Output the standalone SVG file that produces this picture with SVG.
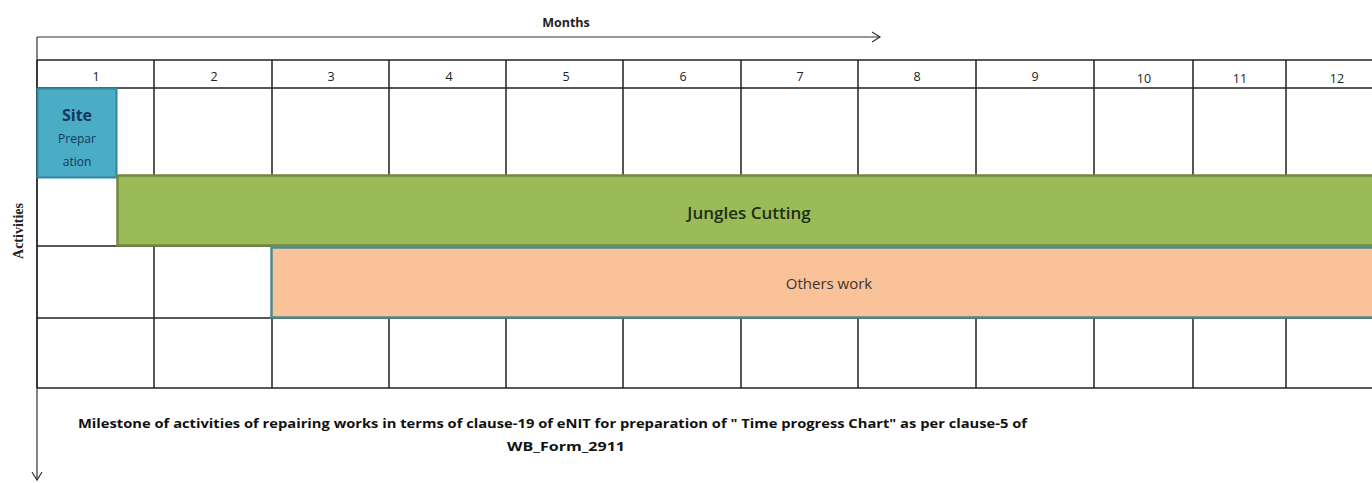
<svg xmlns="http://www.w3.org/2000/svg" width="1372" height="483" viewBox="0 0 1372 483">
<style>
.grid{stroke:#222;stroke-width:1.5;fill:none}
.axis{stroke:#333;stroke-width:1.2;fill:none}
.hdr{font-family:"Open Sans","Liberation Sans",sans-serif;font-size:12.5px;fill:#222;text-anchor:middle}
.cap{font-family:"Open Sans","Liberation Sans",sans-serif;font-size:12.5px;font-weight:bold;fill:#111}
.bar-text{font-family:"Open Sans","Liberation Sans",sans-serif;text-anchor:middle}
</style>
<defs>
<marker id="chev" markerWidth="12" markerHeight="12" refX="10" refY="6" orient="auto" markerUnits="userSpaceOnUse">
<path d="M2,1 L10,6 L2,11" fill="none" stroke="#333" stroke-width="1.2"/>
</marker>
</defs>
<rect width="1372" height="483" fill="#fff"/>

<g id="connectors">
<line class="axis" x1="37" y1="37" x2="880" y2="37" marker-end="url(#chev)"/>
<line class="axis" x1="37" y1="37" x2="37" y2="480" marker-end="url(#chev)"/>
</g>

<g id="grid">
<line class="grid" x1="37" y1="60" x2="1372" y2="60"/>
<line class="grid" x1="37" y1="88" x2="1372" y2="88"/>
<line class="grid" x1="37" y1="175" x2="117" y2="175"/>
<line class="grid" x1="37" y1="246" x2="271" y2="246"/>
<line class="grid" x1="37" y1="318" x2="1372" y2="318"/>
<line class="grid" x1="37" y1="388" x2="1372" y2="388"/>
<line class="grid" x1="37" y1="60" x2="37" y2="388"/>
<path class="grid" d="M154,60V175 M272,60V175 M389,60V175 M506,60V175 M623,60V175 M741,60V175 M858,60V175 M976,60V175 M1094,60V175 M1193,60V175 M1286,60V175"/>
<path class="grid" d="M154,246V388 M272,318V388 M389,318V388 M506,318V388 M623,318V388 M741,318V388 M858,318V388 M976,318V388 M1094,318V388 M1193,318V388 M1286,318V388"/>
</g>

<g id="month-labels">
<text class="hdr" x="96" y="81">1</text>
<text class="hdr" x="214" y="81">2</text>
<text class="hdr" x="331" y="81">3</text>
<text class="hdr" x="449" y="81">4</text>
<text class="hdr" x="566" y="81">5</text>
<text class="hdr" x="683" y="81">6</text>
<text class="hdr" x="800" y="81">7</text>
<text class="hdr" x="917" y="81">8</text>
<text class="hdr" x="1035" y="81">9</text>
<text class="hdr" x="1144" y="83">10</text>
<text class="hdr" x="1240" y="83">11</text>
<text class="hdr" x="1337" y="83">12</text>
</g>

<g id="months-title">
<text x="566" y="27" text-anchor="middle" style="font-family:'Open Sans','Liberation Sans',sans-serif;font-size:12.5px;font-weight:bold;fill:#222">Months</text>
</g>

<g id="activities-title">
<text transform="translate(23,231) rotate(-90)" text-anchor="middle" style="font-family:'Liberation Serif',serif;font-size:14px;font-weight:bold;fill:#222">Activities</text>
</g>

<g id="site-preparation">
<rect x="37.5" y="88.5" width="79" height="89" fill="#4BACC6" stroke="#31859C" stroke-width="2"/>
<text class="bar-text" x="77" y="121" style="font-size:16px;font-weight:bold;fill:#17365D">Site</text>
<text class="bar-text" x="77" y="143" style="font-size:12px;fill:#17365D">Prepar</text>
<text class="bar-text" x="77" y="166" style="font-size:12px;fill:#17365D">ation</text>
</g>

<g id="jungles-cutting">
<rect x="117.5" y="175.5" width="1260" height="70" fill="#9BBB59" stroke="#71893F" stroke-width="2.5"/>
<text class="bar-text" x="749" y="219" style="font-size:17px;font-weight:600;fill:#1E2E12">Jungles Cutting</text>
</g>

<g id="others-work">
<rect x="271.5" y="247.5" width="1106" height="70" fill="#F9C298" stroke="#4F8A8B" stroke-width="2.5"/>
<text class="bar-text" x="829" y="289" style="font-size:15px;fill:#3E3430">Others work</text>
</g>

<g id="caption">
<text class="cap" x="78" y="428" textLength="949" lengthAdjust="spacingAndGlyphs">Milestone of activities of repairing works in terms of clause-19 of eNIT for preparation of " Time progress Chart" as per clause-5 of</text>
<text class="cap" x="507" y="451" textLength="118" lengthAdjust="spacingAndGlyphs">WB_Form_2911</text>
</g>
</svg>
